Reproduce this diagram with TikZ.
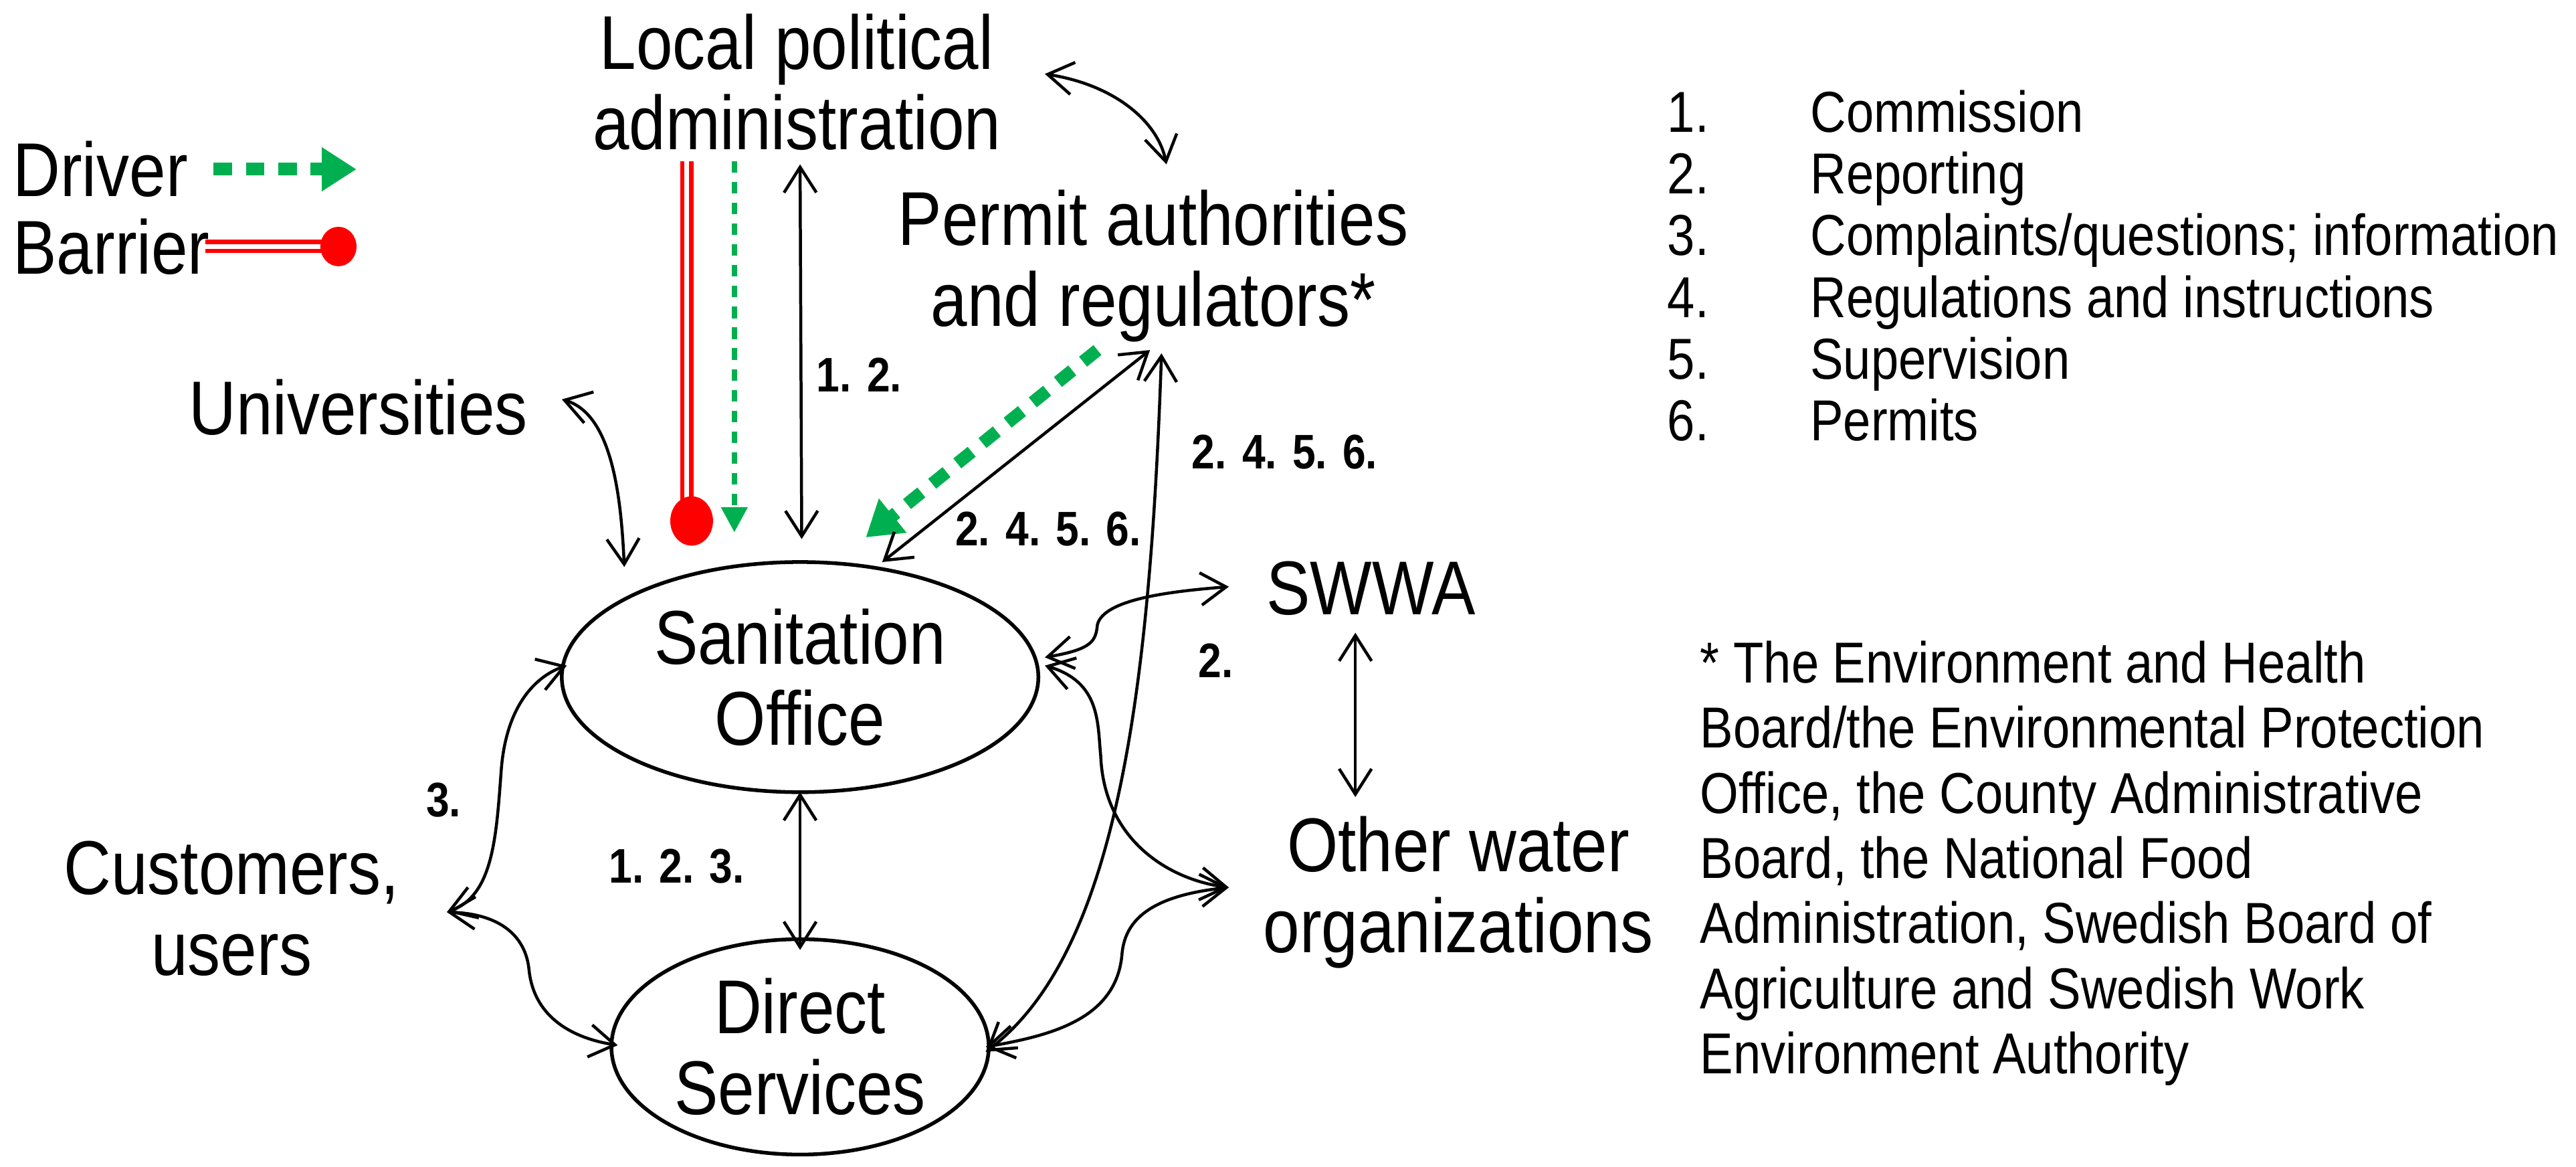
\documentclass[tikz,border=0pt]{standalone}
\usepackage{fontspec}
\setmainfont[FakeStretch=0.86]{Liberation Sans}
\usetikzlibrary{arrows.meta,shapes.geometric}
\definecolor{drvgreen}{RGB}{0,176,80}
\begin{document}
\begin{tikzpicture}[x=0.025cm,y=-0.025cm,
  big/.style={font=\fontsize{33}{35}\selectfont,align=center},
  lst/.style={font=\fontsize{25}{27}\selectfont,anchor=base west},
  lbl/.style={font=\fontsize{21}{23}\selectfont\bfseries},
  conn/.style={line width=1.3pt,{Straight Barb[length=11pt,width=14pt]}-{Straight Barb[length=11pt,width=14pt]}},
  oval/.style={draw,ellipse,line width=1.6pt,big},
  greenthick/.style={drvgreen,line width=5.5pt,dash pattern=on 8pt off 6pt,-{Triangle[length=15pt,width=18pt]}},
  greenthin/.style={drvgreen,line width=2.5pt,dash pattern=on 5pt off 4pt,-{Triangle[length=11pt,width=11pt]}},
  barrier/.style={red,double=white,line width=1.8pt,double distance=2.2pt}]
\useasboundingbox (0,0) rectangle (1568,710);
% nodes
\node[big] (lpa) at (485,50) {Local political\\administration};
\node[big] (pa) at (702,162) {Permit authorities\\and regulators*};
\node[big,anchor=west] (uni) at (110,248) {Universities};
\node[oval,minimum width=7.25cm,minimum height=3.5cm] (so) at (487,412) {Sanitation\\Office};
\node[oval,minimum width=5.6cm,minimum height=3cm] (ds) at (487,637) {Direct\\Services};
\node[big,anchor=west] (swwa) at (766,358) {SWWA};
\node[big,anchor=west] (ow) at (764,543) {Other water\\organizations};
\node[big,anchor=west] (cu) at (34,553) {Customers,\\users};
\node[big,anchor=west] (drv) at (3,103) {Driver};
\node[big,anchor=west] (bar) at (3,150) {Barrier};
% legend
\coordinate (d1) at (130,103); \coordinate (d2) at (217,103);
\draw[greenthick] (d1) -- (d2);
\coordinate (b1) at (125,150); \coordinate (b2) at (200,150);
\draw[barrier] (b1) -- (b2);
\fill[red] (206,150) ellipse (11 and 12);
% list
\foreach \n/\t [count=\i] in {1/Commission,2/Reporting,3/{Complaints/questions; information},4/Regulations and instructions,5/Supervision,6/Permits}{
  \node[lst] (n\i) at (1010,43+37.5*\i) {\n.};
  \node[lst] (t\i) at (1097,43+37.5*\i) {\t};
}
\node[lst,align=left,anchor=north west,font=\fontsize{25}{28.2}\selectfont] (fn) at (1030,385) {* The Environment and Health\\Board/the Environmental Protection\\Office, the County Administrative\\Board, the National Food\\Administration, Swedish Board of\\Agriculture and Swedish Work\\Environment Authority};
% red barrier line and green thin driver
\coordinate (r1) at (418,98); \coordinate (r2) at (418,305);
\draw[barrier] (r1) -- (r2);
\fill[red] (421,317) ellipse (13 and 15);
\coordinate (g1) at (447,98); \coordinate (g2) at (447,324);
\draw[greenthin] (g1) -- (g2);
% connectors
\coordinate (a1) at (487,100); \coordinate (a2) at (488,328);
\draw[conn] (a1) -- (a2);
\node[lbl] (l12) at (523,228) {1. 2.};
\coordinate (c1) at (636,45); \coordinate (c2) at (710,100);
\draw[conn] (c1) .. controls (680,52) and (705,75) .. (c2);
\coordinate (u1) at (342,243); \coordinate (u2) at (380,345);
\draw[conn] (u1) .. controls (372,252) and (378,300) .. (u2);
\coordinate (p1) at (668,213); \coordinate (p2) at (527,327);
\draw[greenthick] (p1) -- (p2);
\coordinate (q1) at (700,213); \coordinate (q2) at (537,342);
\draw[conn] (q2) -- (q1);
\node[lbl] (l2456a) at (638,322) {2. 4. 5. 6.};
\coordinate (q3) at (707,215); \coordinate (q4) at (600,640);
\draw[conn] (q3) .. controls (700,420) and (680,580) .. (q4);
\node[lbl] (l2456b) at (782,275) {2. 4. 5. 6.};
\coordinate (s1) at (636,400); \coordinate (s2) at (748,357);
\draw[conn] (s1) .. controls (665,395) and (667,390) .. (668,380) .. controls (672,365) and (710,360) .. (s2);
\node[lbl] (l2) at (740,402) {2.};
\coordinate (w1) at (825,385); \coordinate (w2) at (825,485);
\draw[conn] (w1) -- (w2);
\coordinate (o1) at (636,405); \coordinate (o2) at (748,540);
\draw[conn] (o1) .. controls (670,415) and (668,440) .. (670,460) .. controls (672,510) and (710,535) .. (o2);
\coordinate (o3) at (600,637);
\draw[conn] (o2) .. controls (700,545) and (685,560) .. (683,580) .. controls (680,620) and (640,630) .. (o3);
\coordinate (v1) at (487,482); \coordinate (v2) at (487,578);
\draw[conn] (v1) -- (v2);
\node[lbl] (l123) at (412,527) {1. 2. 3.};
\coordinate (k0) at (272,555); \coordinate (k1) at (345,405); \coordinate (k2) at (376,636);
\draw[conn] (k0) .. controls (300,545) and (302,510) .. (305,470) .. controls (308,425) and (330,410) .. (k1);
\draw[conn] (k0) .. controls (305,556) and (320,570) .. (322,590) .. controls (325,620) and (350,632) .. (k2);
\node[lbl] (l3) at (270,487) {3.};
\end{tikzpicture}
\end{document}
